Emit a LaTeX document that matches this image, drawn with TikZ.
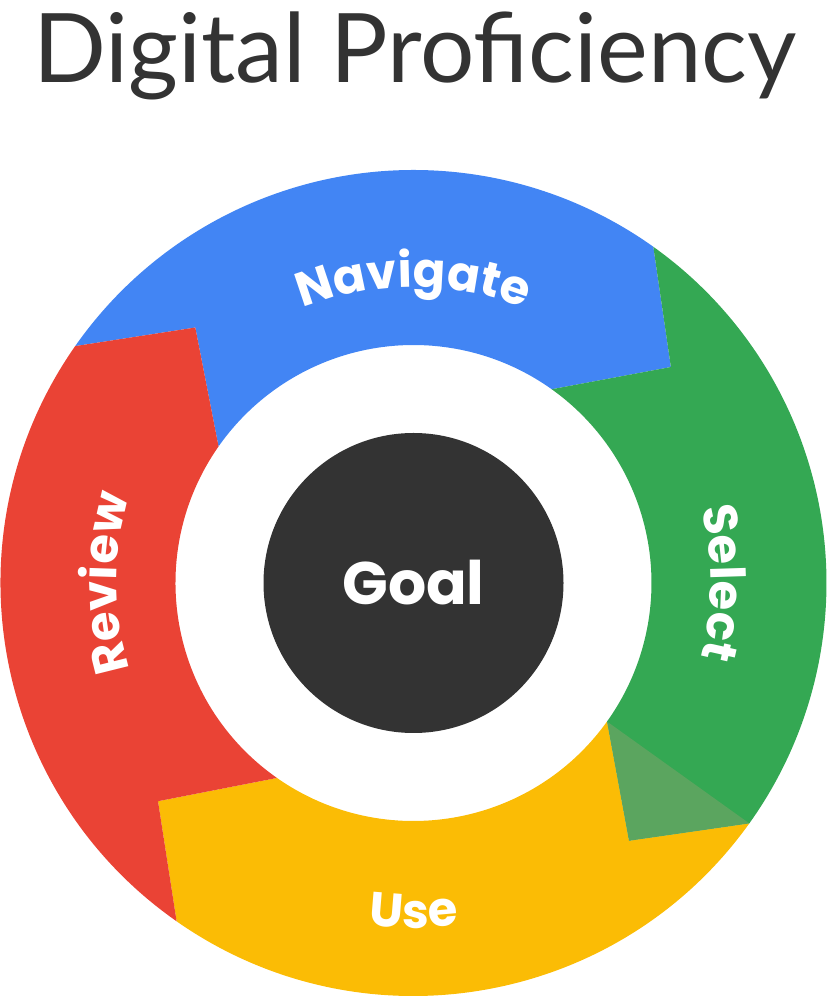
\documentclass[tikz,border=0pt]{standalone}
\usepackage{fontspec}
\setmainfont{Lato}
\newfontfamily\labfont{Poppins}
\usetikzlibrary{decorations.text}
\definecolor{gblue}{HTML}{4285F4}
\definecolor{ggreen}{HTML}{34A853}
\definecolor{gyellow}{HTML}{FBBC05}
\definecolor{gred}{HTML}{EA4335}
\definecolor{gdark}{HTML}{333333}
\definecolor{gtip}{HTML}{5BA55F}
\newcommand{\seg}[3]{%
 \fill[#3] (#1:413) arc[start angle=#1,end angle=#2,radius=413] -- ({#2-14.5}:336) -- (#2:238)
   arc[start angle=#2,end angle=#1,radius=238] -- ({#1-14.5}:336) -- cycle;}
\tikzset{curvelab/.style={decorate,decoration={text along path,text align=center,
   text color=white,text={|\labfont\bfseries\fontsize{48}{48}\selectfont|#1}}}}
\begin{document}
\begin{tikzpicture}[x=1pt,y=1pt]
\useasboundingbox (0,0) rectangle (827,996);
\node[font=\fontsize{96}{96}\selectfont,text=gdark] (title) at (415,940) {Digital Proficiency};
\begin{scope}[shift={(413.5,413)}]
\seg{145}{54.5}{gblue}
\seg{54.5}{-35.6}{ggreen}
\seg{-35.6}{-125}{gyellow}
\seg{-125}{-215}{gred}
\fill[gtip] (-35.6:238) -- (-50.1:336) -- (-35.6:413) -- cycle;
\node[circle,fill=gdark,minimum size=300pt,text=white,font=\labfont\bfseries\fontsize{60}{60}\selectfont] (goal) at (0,0) {Goal};
\path[curvelab=Navigate] (125:296) arc[start angle=125,end angle=55,radius=296];
\path[curvelab=Select] (30:297) arc[start angle=30,end angle=-30,radius=297];
\path[curvelab=Review] (210:297) arc[start angle=210,end angle=150,radius=297];
\path[curvelab=Use] (245:345) arc[start angle=245,end angle=295,radius=345];
\end{scope}
\end{tikzpicture}
\end{document}
